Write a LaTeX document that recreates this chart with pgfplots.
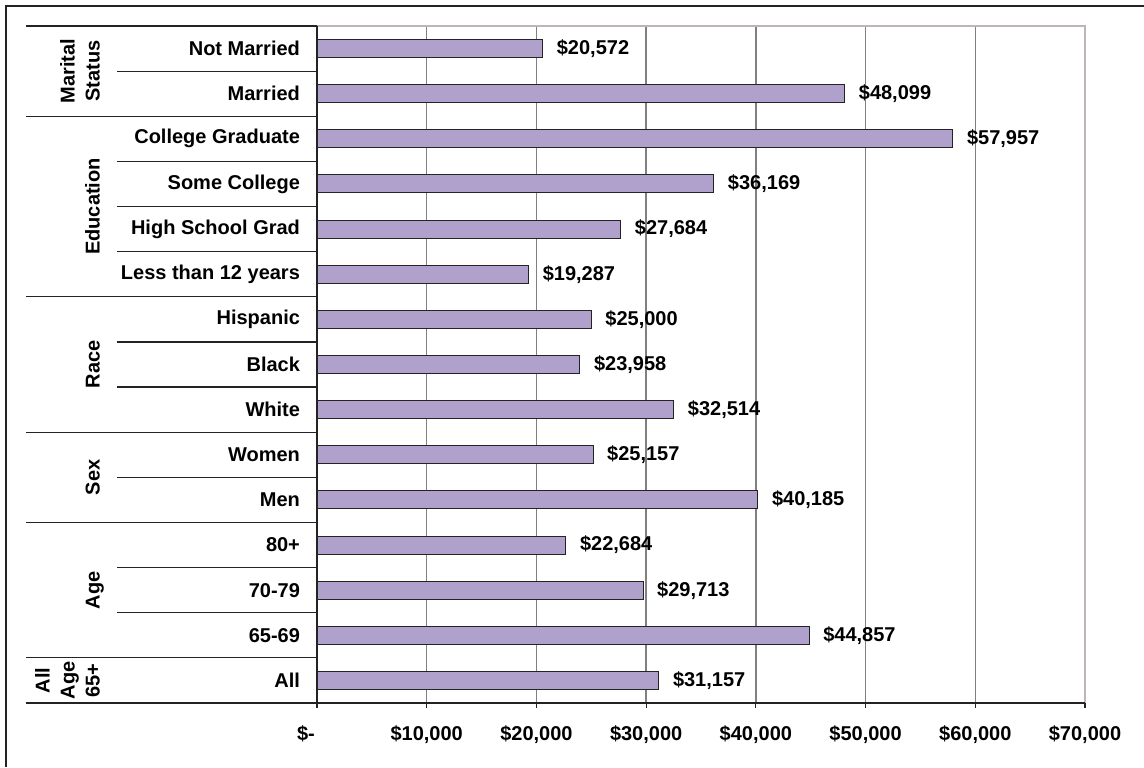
\documentclass[border=0pt]{standalone}
\usepackage{pgfplots}
\pgfplotsset{compat=1.18}
\usepackage{pgfplotstable}
\usepackage{fontspec}
\setmainfont{Liberation Sans}
\definecolor{barfill}{RGB}{176,160,204}
\definecolor{gridc}{RGB}{128,128,128}
\definecolor{borderc}{RGB}{190,182,182}
\definecolor{dark}{RGB}{35,35,35}

\pgfplotstableread{
y val
0 31157
1 44857
2 29713
3 22684
4 40185
5 25157
6 32514
7 23958
8 25000
9 19287
10 27684
11 36169
12 57957
13 48099
14 20572
}\incomedata

\begin{document}
\begin{tikzpicture}[font=\fontsize{10}{12.5}\selectfont\bfseries]
\useasboundingbox (0,0) rectangle (572pt,383.5pt);
\draw[line width=1pt, dark] (3pt,0) -- (3pt,380.5pt) -- (572pt,380.5pt);
\begin{axis}[
  at={(158.5pt,32pt)}, anchor=south west,
  scale only axis, width=384pt, height=338.5pt,
  xbar, bar width=0.4,
  xmin=0, xmax=70000, ymin=-0.5, ymax=14.5,
  axis line style={draw=none},
  scaled x ticks=false,
  xtick pos=lower, ytick pos=left,
  xtick={0,10000,20000,30000,40000,50000,60000,70000},
  xticklabels={\$-\rule{11pt}{0pt},\$10{,}000,\$20{,}000,\$30{,}000,\$40{,}000,\$50{,}000,\$60{,}000,\$70{,}000},
  x tick label style={yshift=-5.5pt},
  tick align=outside, major tick length=2.5pt,
  x tick style={dark, line width=0.6pt},
  ytick={0,...,14},
  yticklabels={All,65-69,70-79,80+,Men,Women,White,Black,Hispanic,Less than 12 years,High School Grad,Some College,College Graduate,Married,Not Married},
  y tick style={draw=none},
  y tick label style={xshift=-2.5pt},
  xmajorgrids, grid style={gridc, line width=0.7pt},
  clip=false,
  point meta=x,
  nodes near coords={\$\pgfmathprintnumber[assume math mode=true, fixed, precision=0, 1000 sep={,}]{\pgfplotspointmeta}},
  every node near coord/.append style={anchor=west, xshift=3.5pt, text=black},
]
\addplot[fill=barfill, draw=dark, line width=0.5pt] table[x=val,y=y]{\incomedata};
\draw[borderc, line width=0.75pt] (rel axis cs:0,1) -- (rel axis cs:1,1) -- (rel axis cs:1,0);
\draw[dark, line width=0.75pt] (rel axis cs:0,1) -- (rel axis cs:0,0) -- (rel axis cs:1,0);
\pgfplotsinvokeforeach{-0.5,0.5,3.5,5.5,8.5,12.5,14.5}{
  \draw[dark, line width=0.6pt] ([xshift=-145.5pt]axis cs:0,#1) -- (axis cs:0,#1);
}
\pgfplotsinvokeforeach{1.5,2.5,4.5,6.5,7.5,9.5,10.5,11.5,13.5}{
  \draw[dark, line width=0.6pt] ([xshift=-100pt]axis cs:0,#1) -- (axis cs:0,#1);
}
\node[rotate=90, anchor=south, align=center, inner sep=0pt, text depth=0pt] at ([xshift=-108.5pt]axis cs:0,13.5) {Marital\\Status};
\node[rotate=90, anchor=south, align=center, inner sep=0pt, text depth=0pt] at ([xshift=-108.5pt]axis cs:0,10.5) {Education};
\node[rotate=90, anchor=south, align=center, inner sep=0pt, text depth=0pt] at ([xshift=-108.5pt]axis cs:0,7) {Race};
\node[rotate=90, anchor=south, align=center, inner sep=0pt, text depth=0pt] at ([xshift=-108.5pt]axis cs:0,4.5) {Sex};
\node[rotate=90, anchor=south, align=center, inner sep=0pt, text depth=0pt] at ([xshift=-108.5pt]axis cs:0,2) {Age};
\node[rotate=90, anchor=south, align=center, inner sep=0pt, text depth=0pt] at ([xshift=-108.5pt]axis cs:0,0) {All\\Age\\65+};
\end{axis}
\end{tikzpicture}
\end{document}
